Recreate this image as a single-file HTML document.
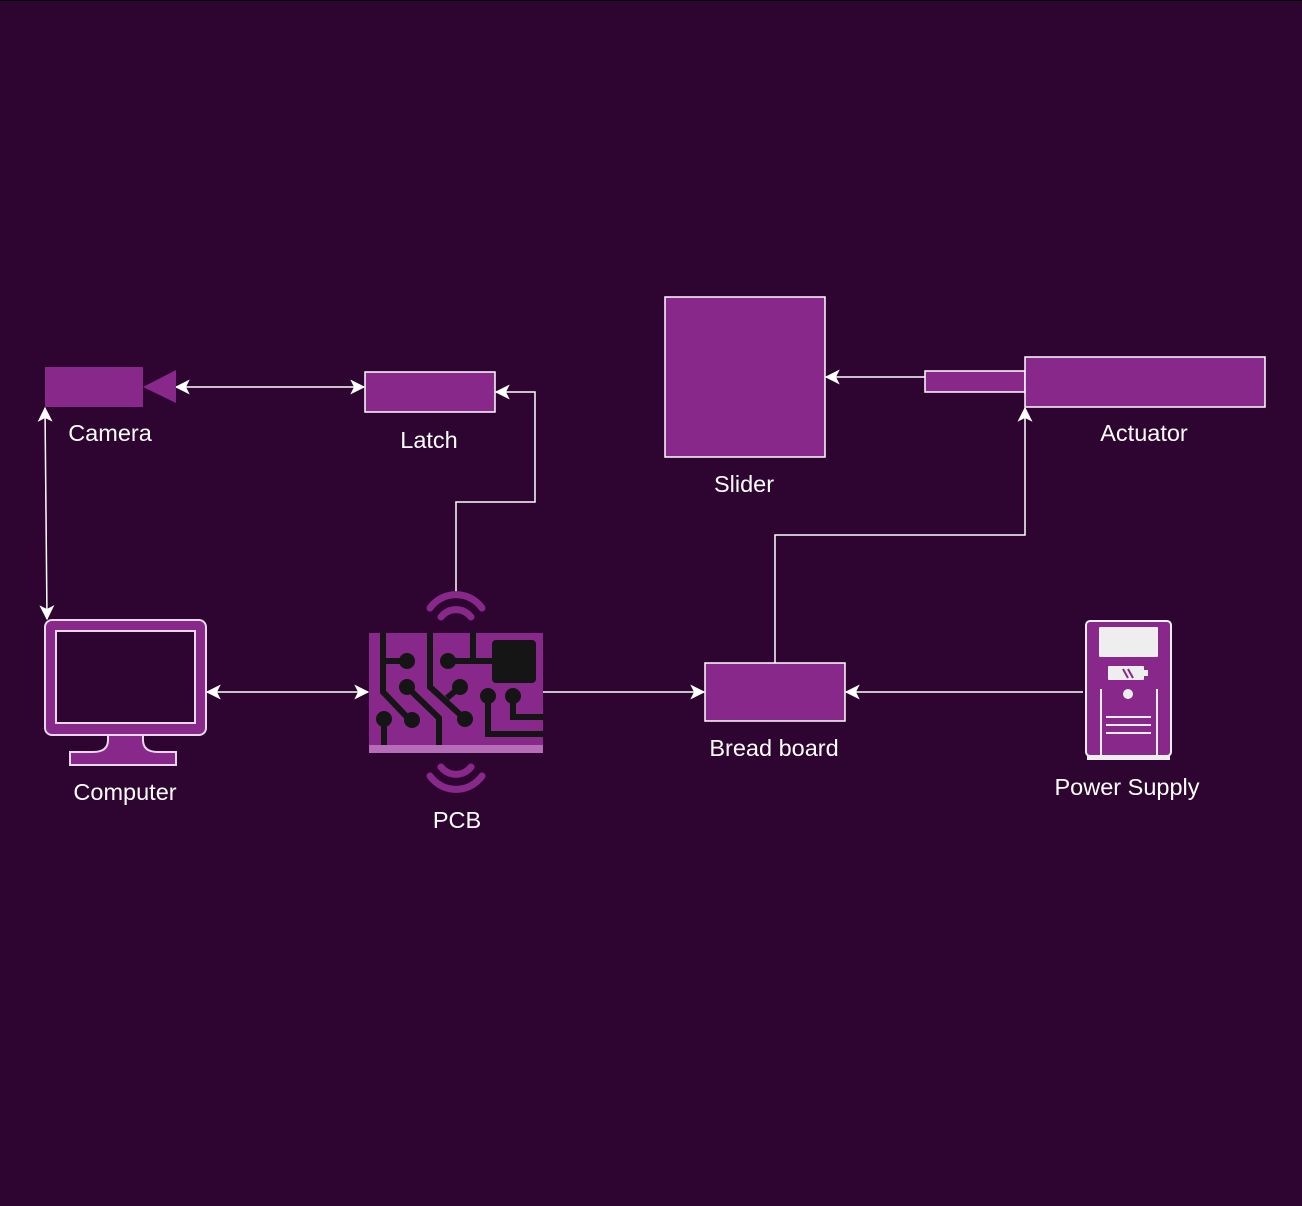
<!DOCTYPE html>
<html><head><meta charset="utf-8"><style>
html,body{margin:0;padding:0;background:#2d0530;}
svg{display:block}
text{font-family:"Liberation Sans",Arial,sans-serif;font-size:23.5px;fill:#fff;text-anchor:middle}
</style></head><body>
<svg width="1302" height="1206" viewBox="0 0 1302 1206" xmlns="http://www.w3.org/2000/svg">
<defs>
<marker id="a" viewBox="0 0 12 12" refX="11" refY="6" markerWidth="15" markerHeight="15" markerUnits="userSpaceOnUse" orient="auto-start-reverse">
<path d="M0,0 L12,6 L0,12 L3,6 Z" fill="#fff"/></marker>
</defs>
<rect width="1302" height="1206" fill="#2d0530"/>
<rect x="0" y="0" width="1302" height="1" fill="#000"/>
<g stroke="#fff" stroke-width="1.5" fill="none">
<line x1="176" y1="387" x2="364" y2="387" marker-start="url(#a)" marker-end="url(#a)"/>
<line x1="45" y1="408" x2="47" y2="619" marker-start="url(#a)" marker-end="url(#a)"/>
<line x1="207" y1="692" x2="368" y2="692" marker-start="url(#a)" marker-end="url(#a)"/>
<polyline points="456,592 456,502 535,502 535,392 496,392" marker-end="url(#a)"/>
<line x1="543" y1="692" x2="704" y2="692" marker-end="url(#a)"/>
<line x1="1083" y1="692" x2="846" y2="692" marker-end="url(#a)"/>
<polyline points="775,663 775,535 1025,535 1025,408" marker-end="url(#a)"/>
<line x1="925" y1="377" x2="826" y2="377" marker-end="url(#a)"/>
</g>
<rect x="45" y="367" width="98" height="40" fill="#88288b"/>
<polygon points="143,387 176,370 176,403" fill="#88288b"/>
<text x="110" y="441">Camera</text>
<rect x="365" y="372" width="130" height="40" fill="#88288b" stroke="#fff" stroke-width="1.5"/>
<text x="429" y="448">Latch</text>
<rect x="665" y="297" width="160" height="160" fill="#88288b" stroke="#fff" stroke-width="1.5"/>
<text x="744" y="492">Slider</text>
<rect x="925" y="371" width="100" height="21" fill="#88288b" stroke="#fff" stroke-width="1.5"/>
<rect x="1025" y="357" width="240" height="50" fill="#88288b" stroke="#fff" stroke-width="1.5"/>
<text x="1144" y="441">Actuator</text>
<rect x="705" y="663" width="140" height="58" fill="#88288b" stroke="#fff" stroke-width="1.5"/>
<text x="774" y="756">Bread board</text>
<rect x="45" y="620" width="161" height="115" rx="7" fill="#88288b" stroke="#e8d8ea" stroke-width="2"/>
<rect x="56" y="631" width="139" height="92" fill="#2d0530" stroke="#e8d8ea" stroke-width="2"/>
<path d="M108,735 L143,735 L143,740 Q143,752 158,752 L176,752 L176,765 L70,765 L70,752 L93,752 Q108,752 108,740 Z" fill="#88288b" stroke="#e8d8ea" stroke-width="2"/>
<text x="125" y="800">Computer</text>
<g>
<path d="M430,608 A32,32 0 0 1 482,608" stroke="#88288b" stroke-width="7" fill="none" stroke-linecap="round"/>
<path d="M441,617 A19,19 0 0 1 471,617" stroke="#88288b" stroke-width="7" fill="none" stroke-linecap="round"/>
<path d="M441,767 A19,19 0 0 0 471,767" stroke="#88288b" stroke-width="7" fill="none" stroke-linecap="round"/>
<path d="M430,776 A32,32 0 0 0 482,776" stroke="#88288b" stroke-width="7" fill="none" stroke-linecap="round"/>
<rect x="369" y="633" width="174" height="120" fill="#88288b"/>
<rect x="369" y="745" width="174" height="8" fill="#b56db8"/>
<g stroke="#151515" stroke-width="6" fill="none">
<polyline points="383,633 383,692 407,717"/>
<line x1="383" y1="661" x2="407" y2="661"/>
<line x1="384" y1="719" x2="384" y2="745"/>
<polyline points="407,687 439,718 439,745"/>
<polyline points="430,633 430,687 465,719"/>
<line x1="460" y1="687" x2="447" y2="698"/>
<line x1="448" y1="661" x2="493" y2="661"/>
<line x1="473" y1="633" x2="473" y2="661"/>
<polyline points="488,696 488,734 543,734"/>
<polyline points="513,696 513,717 543,717"/>
</g>
<g fill="#151515">
<rect x="492" y="640" width="44" height="43" rx="4"/>
<circle cx="407" cy="661" r="8"/><circle cx="412" cy="720" r="8"/>
<circle cx="384" cy="719" r="8"/><circle cx="407" cy="687" r="8"/>
<circle cx="448" cy="661" r="8"/><circle cx="460" cy="687" r="8"/>
<circle cx="465" cy="719" r="8"/><circle cx="488" cy="696" r="8"/>
<circle cx="513" cy="696" r="8"/>
</g>
</g>
<text x="457" y="828">PCB</text>
<rect x="1087" y="753" width="83" height="7" fill="#eee"/>
<rect x="1086" y="621" width="85" height="135" rx="4" fill="#88288b" stroke="#eee" stroke-width="2"/>
<rect x="1099" y="627" width="59" height="30" rx="1" fill="#eee"/>
<rect x="1108" y="666" width="36" height="14" rx="1" fill="#eee"/>
<rect x="1144" y="670" width="4" height="6" fill="#eee"/>
<g stroke="#88288b" stroke-width="2"><line x1="1123" y1="669" x2="1128" y2="678"/><line x1="1128" y1="669" x2="1133" y2="678"/></g>
<circle cx="1128" cy="694" r="5" fill="#eee"/>
<g stroke="#eee" stroke-width="2">
<line x1="1101" y1="689" x2="1101" y2="755"/><line x1="1157" y1="689" x2="1157" y2="755"/>
<line x1="1106" y1="717" x2="1151" y2="717"/><line x1="1106" y1="725" x2="1151" y2="725"/><line x1="1106" y1="733" x2="1151" y2="733"/>
</g>
<text x="1127" y="795">Power Supply</text>
</svg>
</body></html>
